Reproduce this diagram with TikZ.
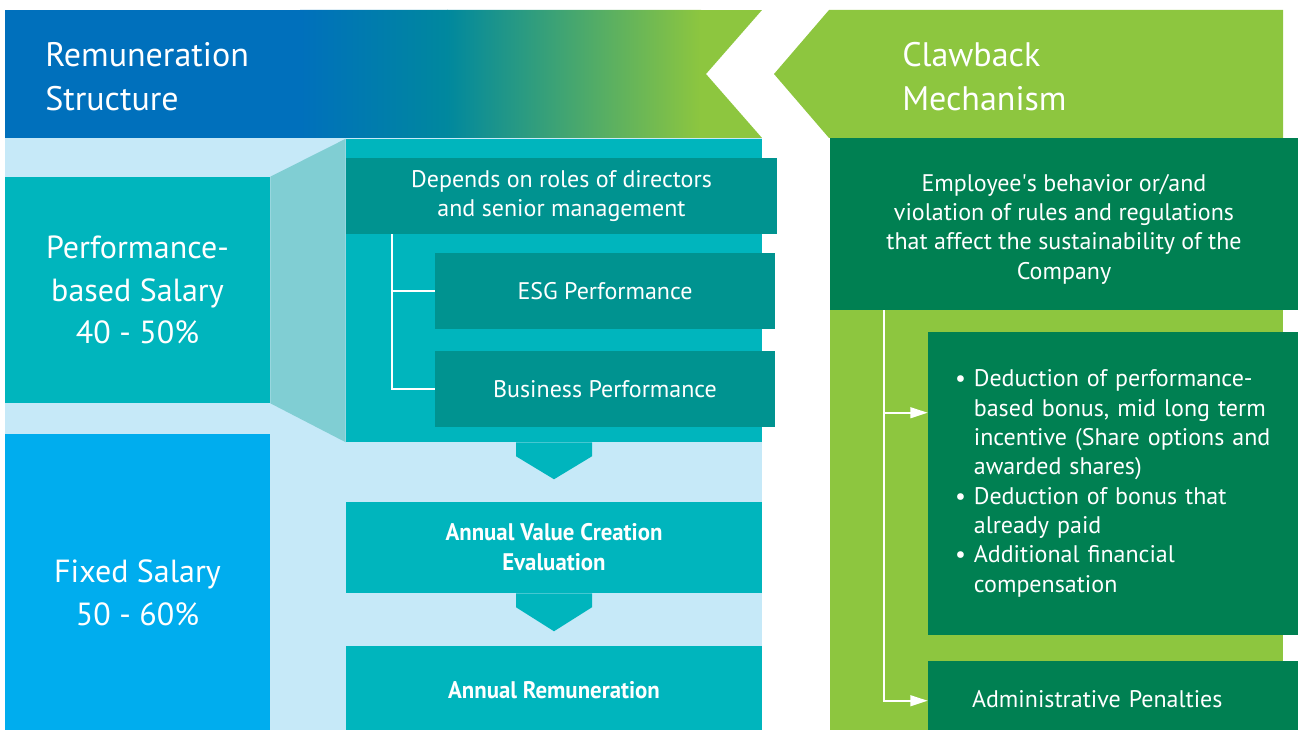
\documentclass[tikz,border=0pt]{standalone}
\usepackage{fontspec}
\setmainfont{PT Sans}
\newfontfamily\condfont[FakeStretch=0.95]{PT Sans}
\usetikzlibrary{positioning,calc,arrows.meta}

\definecolor{hdrblue}{HTML}{0070BC}
\definecolor{hdrteal}{HTML}{00889E}
\definecolor{hdrgreen}{HTML}{8DC63F}
\definecolor{skyback}{HTML}{C6E9F8}
\definecolor{perfteal}{HTML}{00B5BD}
\definecolor{fixblue}{HTML}{00ADEE}
\definecolor{wedge}{HTML}{80CED3}
\definecolor{darkteal}{HTML}{009390}
\definecolor{darkgreen}{HTML}{008052}

\tikzset{sz/.style 2 args={minimum width=#1*0.75pt, minimum height=#2*0.75pt}}

\begin{document}
\begin{tikzpicture}[
    x=0.75pt, y=-0.75pt,
    box/.style={rectangle, inner sep=0pt, text=white, align=center},
    hdr/.style={text=white, inner sep=0pt, align=left, font=\fontsize{25.5}{33}\selectfont},
    big/.style={font=\fontsize{24}{32}\selectfont},
    body/.style={font=\fontsize{18}{22}\selectfont},
    bold/.style={font=\condfont\bfseries\fontsize{18}{22.5}\selectfont},
    tree/.style={draw=white, line width=1.5pt},
    flow/.style={draw=white, line width=1.5pt, -{Triangle[length=13pt, width=8pt]}}
  ]
    \useasboundingbox (0,0) rectangle (1298,730);

    % Header bands
    \begin{scope}
      \clip (5,10) -- (762,10) -- (706,74) -- (762,138) -- (5,138) -- cycle;
      \fill[hdrblue] (5,10) rectangle (301,138);
      \shade[left color=hdrblue, right color=hdrteal] (300,10) rectangle (448,138);
      \shade[left color=hdrteal, right color=hdrgreen] (447,10) rectangle (701,138);
      \fill[hdrgreen] (700,10) rectangle (762,138);
    \end{scope}
    \fill[hdrgreen] (829,10) -- (1283,10) -- (1283,138) -- (829,138) -- (774,74) -- cycle;
    \node[hdr, anchor=north west] (remtitle) at (45,42) {Remuneration\\Structure};
    \node[hdr, anchor=north west] (clawtitle) at (902,42) {Clawback\\Mechanism};

    % Remuneration structure
    \fill[skyback] (5,138) rectangle (762,730);
    \node[box, sz={265}{226}, fill=perfteal, big] (perf) at (137.5,290) {Performance-\\based Salary\\40 - 50\%};
    \node[box, sz={265}{296}, fill=fixblue] (fixed) at (137.5,582) {};
    \node[box, big] (fixedtxt) at ($(fixed.center)+(0,11)$) {Fixed Salary\\50 - 60\%};
    \node[box, sz={416}{303}, fill=perfteal] (panel) at (554,290.5) {};
    \fill[wedge] (perf.north east) -- (panel.north west) -- (panel.south west) -- (perf.south east) -- cycle;
    \node[box, sz={431}{76}, fill=darkteal, body] (depends) at (561.5,196) {Depends on roles of directors\\and senior management};
    \node[box, sz={340}{76}, fill=darkteal, body] (esg) at (605,291) {ESG Performance};
    \node[box, sz={340}{76}, fill=darkteal, body] (biz) at (605,389) {Business Performance};
    \draw[tree] ($(depends.south west)+(46,0)$) |- (esg.west);
    \draw[tree] ($(depends.south west)+(46,0)$) |- (biz.west);

    \node[box, sz={416}{91}, fill=perfteal, bold] (eval) at (554,547.5) {Annual Value Creation\\Evaluation};
    \node[box, sz={416}{88}, fill=perfteal, bold] (annual) at (554,690) {Annual Remuneration};
    \fill[perfteal] ($(panel.south)+(-38,0)$) -- ++(76,0) -- ++(0,14) -- ++(-38,23) -- ++(-38,-23) -- cycle;
    \fill[perfteal] ($(eval.south)+(-38,0)$) -- ++(76,0) -- ++(0,14) -- ++(-38,24) -- ++(-38,-24) -- cycle;

    % Clawback mechanism
    \fill[hdrgreen] (830,138) rectangle (1283,730);
    \node[box, sz={468}{172}, fill=darkgreen] (trigger) at (1064,224) {};
    \node[box, body] (triggertxt) at ($(trigger.center)+(0,5)$)
      {Employee\textquotesingle s behavior or/and\\violation of rules and regulations\\that affect the sustainability of the\\Company};
    \node[box, sz={370}{303}, fill=darkgreen, body, align=left, text width=316*0.75pt, inner xsep=27*0.75pt] (deduct) at (1113,483.5)
      {\begin{tabular}{@{}l@{\hspace{6pt}}l@{}}
        \textbullet & Deduction of performance-\\
                    & based bonus, mid long term\\
                    & incentive (Share options and\\
                    & awarded shares)\\
        \textbullet & Deduction of bonus that\\
                    & already paid\\
        \textbullet & Additional financial\\
                    & compensation
       \end{tabular}};
    \node[box, sz={370}{77}, fill=darkgreen, body, align=left, text width=282*0.75pt, inner xsep=44*0.75pt] (admin) at (1113,699.5) {Administrative Penalties};
    \draw[flow] ($(trigger.south west)+(54,0)$) |- ($(deduct.north west)+(0,81)$);
    \draw[flow] ($(trigger.south west)+(54,0)$) |- ($(admin.north west)+(0,40)$);
  \end{tikzpicture}
\end{document}
